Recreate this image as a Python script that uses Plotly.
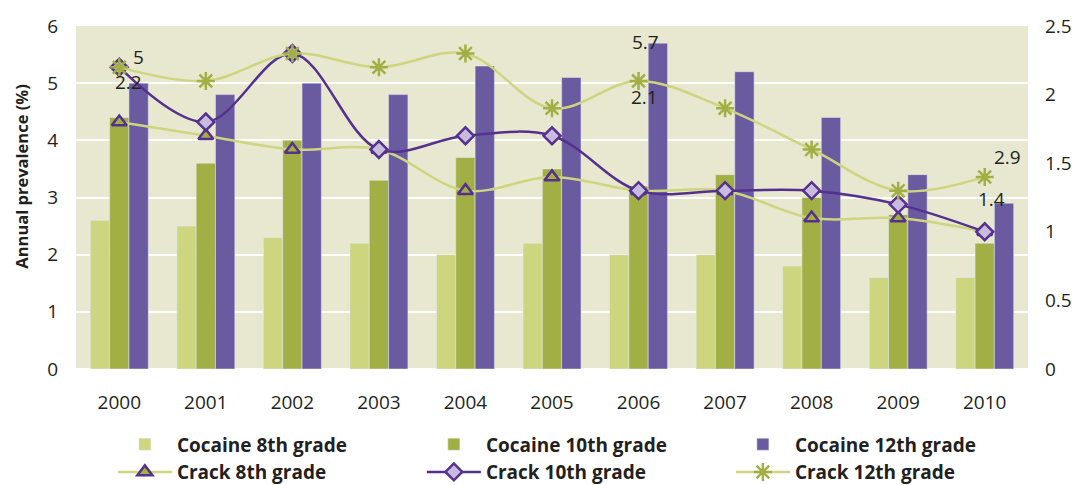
import plotly.graph_objects as go

years = ['2000', '2001', '2002', '2003', '2004', '2005', '2006', '2007', '2008', '2009', '2010']

# cocaine, left axis (%)
cocaine_8 = [2.6, 2.5, 2.3, 2.2, 2.0, 2.2, 2.0, 2.0, 1.8, 1.6, 1.6]
cocaine_10 = [4.4, 3.6, 4.0, 3.3, 3.7, 3.5, 3.2, 3.4, 3.0, 2.7, 2.2]
cocaine_12 = [5.0, 4.8, 5.0, 4.8, 5.3, 5.1, 5.7, 5.2, 4.4, 3.4, 2.9]

# crack, right axis (%)
crack_8 = [1.8, 1.7, 1.6, 1.6, 1.3, 1.4, 1.3, 1.3, 1.1, 1.1, 1.0]
crack_10 = [2.2, 1.8, 2.3, 1.6, 1.7, 1.7, 1.3, 1.3, 1.3, 1.2, 1.0]
crack_12 = [2.2, 2.1, 2.3, 2.2, 2.3, 1.9, 2.1, 1.9, 1.6, 1.3, 1.4]

light_green = '#CDD57F'
green = '#A2AF45'
purple = '#6A5AA0'
dark_purple = '#55308D'
lavender = '#C7BCE0'
txt = '#231F20'
font = 'Open Sans'

fig = go.Figure()

fig.add_trace(go.Bar(x=years, y=cocaine_8, name='Cocaine 8th grade', marker_color=light_green))
fig.add_trace(go.Bar(x=years, y=cocaine_10, name='Cocaine 10th grade', marker_color=green))
fig.add_trace(go.Bar(x=years, y=cocaine_12, name='Cocaine 12th grade', marker_color=purple))

fig.add_trace(go.Scatter(
    x=years, y=crack_8, name='Crack 8th grade', yaxis='y2', mode='lines+markers',
    line=dict(color=light_green, width=2.5, shape='spline', smoothing=1),
    marker=dict(symbol='triangle-up', size=13, color=green, line=dict(color=dark_purple, width=2.5))
))
fig.add_trace(go.Scatter(
    x=years, y=crack_10, name='Crack 10th grade', yaxis='y2', mode='lines+markers',
    line=dict(color=dark_purple, width=2.5, shape='spline', smoothing=1),
    marker=dict(symbol='diamond', size=13, color=lavender, line=dict(color=dark_purple, width=2.5))
))
fig.add_trace(go.Scatter(
    x=years, y=crack_12, name='Crack 12th grade', yaxis='y2', mode='lines+markers',
    line=dict(color=light_green, width=2.5, shape='spline', smoothing=1),
    marker=dict(symbol='asterisk-open', size=15, color=green, line=dict(color=green, width=2.5))
))

# data labels, placed like the original (x given as category index)
labels = [
    ('2000', cocaine_12[0], 'y', 19, 26),
    ('2000', crack_12[0], 'y2', 9, -15),
    ('2006', cocaine_12[6], 'y', 7, 1),
    ('2006', crack_12[6], 'y2', 6, -16),
    ('2010', cocaine_12[10], 'y', 23, 46),
    ('2010', crack_12[10], 'y2', 7, -22),
]
for yr, v, yref, dx, dy in labels:
    fig.add_annotation(x=years.index(yr), y=v, xref='x', yref=yref, text=f'{v:g}', showarrow=False,
                       xshift=dx, yshift=dy, font=dict(family=font, size=19, color=txt))

# y axis title sits a bit above centre in the original
fig.add_annotation(text='<b>Annual prevalence (%)</b>', textangle=-90, xref='paper', yref='paper',
                   x=-0.057, y=0.56, xanchor='center', yanchor='middle', showarrow=False,
                   font=dict(family=font, size=16.5, color=txt))

fig.update_layout(
    width=1075, height=485,
    margin=dict(l=76, r=47, t=26, b=116),
    paper_bgcolor='white', plot_bgcolor='#E8E8D0',
    barmode='group', bargap=0.33, bargroupgap=0,
    font=dict(family=font, size=19, color=txt),
    showlegend=True,
    legend=dict(
        orientation='h', xref='container', yref='container',
        x=0.105, xanchor='left', y=0.123, yanchor='top',
        traceorder='normal', entrywidth=240, entrywidthmode='pixels',
        itemwidth=54, font=dict(family=font, size=19, color=txt, weight='bold'),
        bgcolor='rgba(0,0,0,0)'
    ),
    xaxis=dict(type='category', range=[-0.5, len(years) - 0.5], showgrid=False, ticks='',
               showline=False, ticklabelstandoff=20, automargin=False),
    yaxis=dict(
        range=[0, 6], dtick=1, showgrid=True, gridcolor='white', gridwidth=2,
        zeroline=True, zerolinecolor='white', zerolinewidth=2, automargin=False,
        ticklabelstandoff=17
    ),
    yaxis2=dict(
        range=[0, 2.5], dtick=0.5, overlaying='y', side='right', showgrid=False,
        zeroline=False, automargin=False, ticklabelstandoff=16
    ),
)

fig.write_html('out.html', config={'displayModeBar': False},
               post_script="document.body.style.margin = '0';")
